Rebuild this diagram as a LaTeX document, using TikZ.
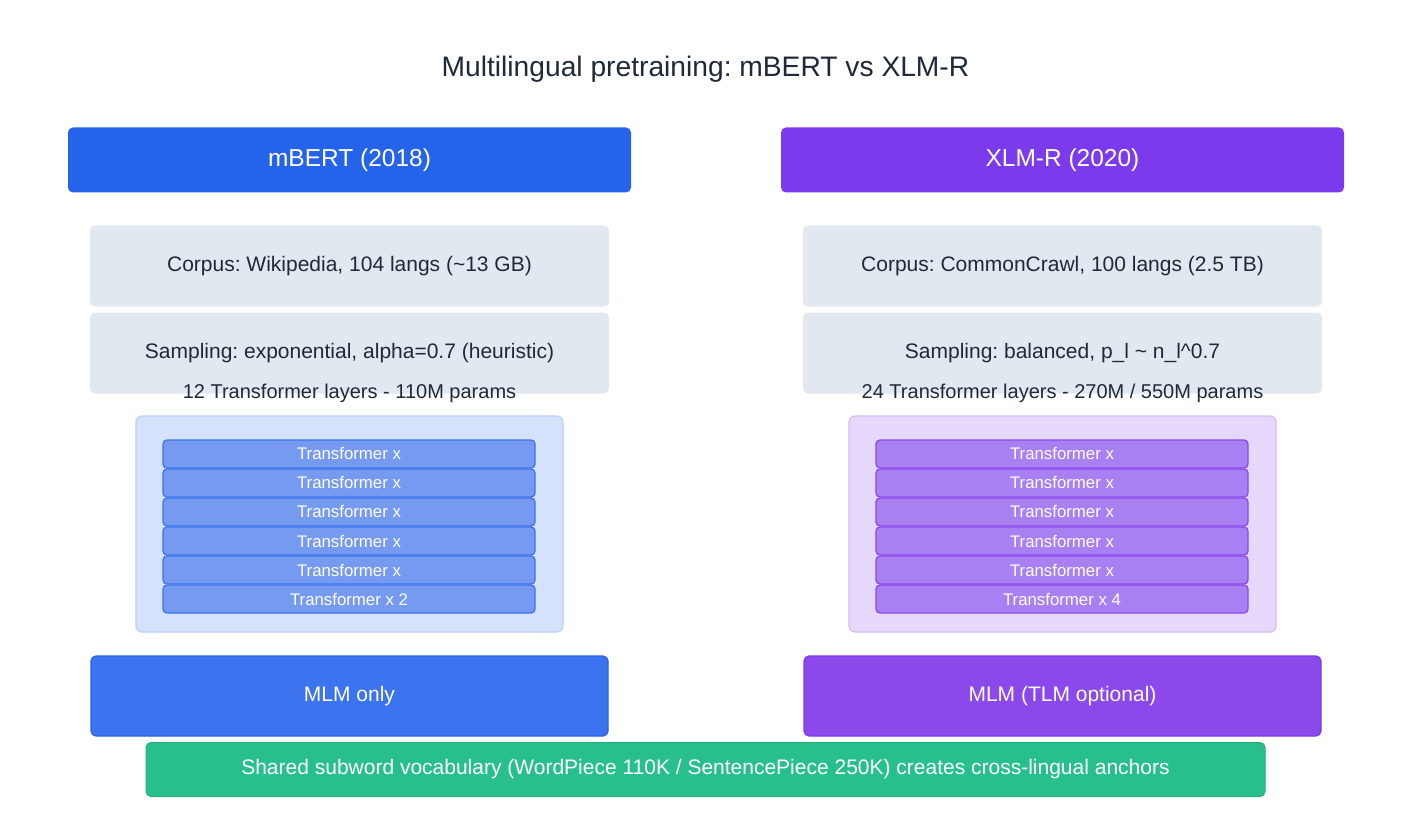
\documentclass[tikz,border=0pt]{standalone}
\usepackage{fontspec}
\setmainfont{Liberation Sans}
\usetikzlibrary{positioning}
\definecolor{txtdark}{HTML}{1F2937}
\definecolor{mblue}{HTML}{2563EB}
\definecolor{mpurple}{HTML}{7C3AED}
\definecolor{infogray}{HTML}{E2E8F0}
\definecolor{mgreen}{HTML}{27C08D}
\tikzset{
  header/.style = {rounded corners=5pt, text=white, minimum width=563pt,
                   minimum height=65pt, font=\fontsize{24.5}{28}\selectfont},
  infobox/.style = {rounded corners=5pt, fill=infogray, text=txtdark,
                    minimum width=519pt, minimum height=81pt,
                    font=\fontsize{21}{24}\selectfont},
  stackbox/.style = {rounded corners=6pt, line width=1.2pt,
                     minimum width=427pt, minimum height=216pt},
  layerbox/.style = {rounded corners=4pt, line width=1.3pt, text=white,
                     minimum width=372pt, minimum height=28pt,
                     font=\fontsize{16.8}{19}\selectfont},
  objbox/.style = {rounded corners=5pt, line width=1.2pt, text=white,
                   minimum width=517pt, minimum height=80pt,
                   font=\fontsize{21}{24}\selectfont},
  caption/.style = {text=txtdark, font=\fontsize{20}{23}\selectfont}
}

\begin{document}
\frenchspacing
\begin{tikzpicture}[x=1pt, y=-1pt]
    \useasboundingbox [fill=white] (0, 0) rectangle (1411, 837);

    \node [text=txtdark, font=\fontsize{28.2}{32}\selectfont] (title) at (705.5, 69)
        {Multilingual pretraining: mBERT vs XLM-R};

    % mBERT column
    \node [header, fill=mblue] (mbert) at (349.5, 160) {mBERT (2018)};
    \node [infobox] (mcorpus) at (349.5, 266) {Corpus: Wikipedia, 104 langs (\textasciitilde13 GB)};
    \node [infobox] (msampling) at (349.5, 353) {Sampling: exponential, alpha=0.7 (heuristic)};
    \node [caption] (mlayers) at (349.5, 393) {12 Transformer layers - 110M params};
    \node [stackbox, fill={rgb,255:red,214;green,226;blue,251},
           draw={rgb,255:red,189;green,207;blue,248}] (mstack) at (349.5, 524) {};
    \foreach \i/\lab in {0/Transformer x, 1/Transformer x, 2/Transformer x,
                         3/Transformer x, 4/Transformer x, 5/Transformer x 2}
        \node [layerbox, fill={rgb,255:red,119;green,154;blue,241},
               draw={rgb,255:red,59;green,115;blue,235}]
            (mlayer\i) at (349, 454 + 29*\i) {\lab};
    \node [objbox, fill={rgb,255:red,59;green,116;blue,238}, draw=mblue]
        (mobj) at (349.5, 696) {MLM only};

    % XLM-R column
    \node [header, fill=mpurple] (xlmr) at (1062.5, 160) {XLM-R (2020)};
    \node [infobox] (xcorpus) at (1062.5, 266) {Corpus: CommonCrawl, 100 langs (2.5 TB)};
    \node [infobox] (xsampling) at (1062.5, 353) {Sampling: balanced, p\_l \textasciitilde{} n\_l\textasciicircum0.7};
    \node [caption] (xlayers) at (1062.5, 393) {24 Transformer layers - 270M / 550M params};
    \node [stackbox, fill={rgb,255:red,229;green,216;blue,250},
           draw={rgb,255:red,212;green,190;blue,248}] (xstack) at (1062.5, 524) {};
    \foreach \i/\lab in {0/Transformer x, 1/Transformer x, 2/Transformer x,
                         3/Transformer x, 4/Transformer x, 5/Transformer x 4}
        \node [layerbox, fill={rgb,255:red,169;green,128;blue,242},
               draw={rgb,255:red,139;green,72;blue,235}]
            (xlayer\i) at (1062, 454 + 29*\i) {\lab};
    \node [objbox, fill={rgb,255:red,139;green,72;blue,235}, draw=mpurple]
        (xobj) at (1062.5, 696) {MLM (TLM optional)};

    % shared vocabulary
    \node [rounded corners=5pt, fill=mgreen, draw={rgb,255:red,34;green,176;blue,125},
           line width=1pt, text=white, minimum width=1119pt, minimum height=54pt,
           font=\fontsize{21}{24}\selectfont] (vocab) at (705.5, 769.5)
        {Shared subword vocabulary (WordPiece 110K / SentencePiece 250K) creates cross-lingual anchors};
\end{tikzpicture}
\end{document}
